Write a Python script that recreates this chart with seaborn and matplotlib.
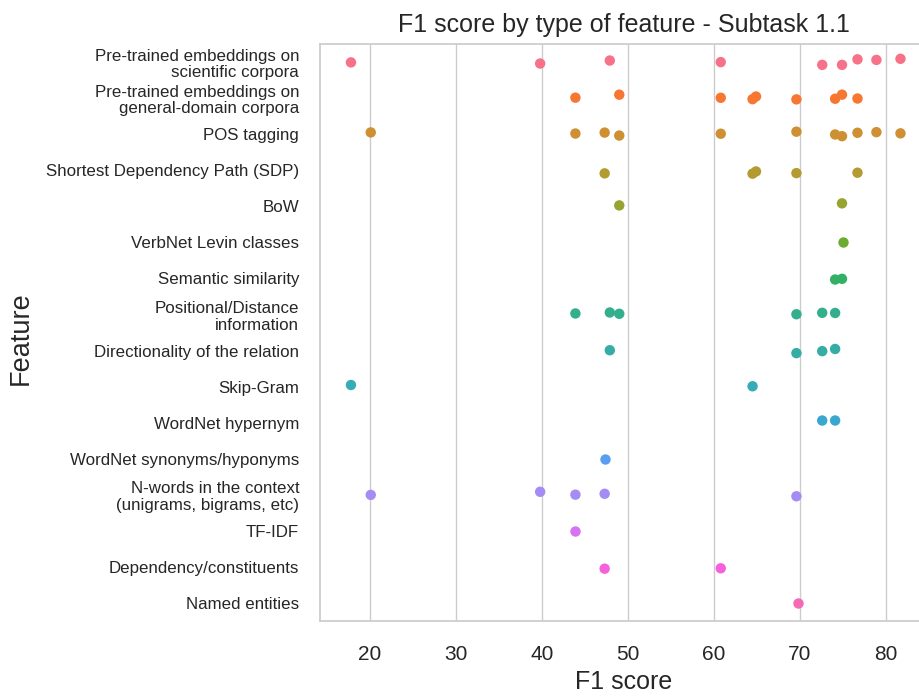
import numpy as np
import pandas as pd
import matplotlib
matplotlib.use("Agg")
import matplotlib.pyplot as plt
import seaborn as sns

features = [
    "Pre-trained embeddings on\nscientific corpora",
    "Pre-trained embeddings on\ngeneral-domain corpora",
    "POS tagging",
    "Shortest Dependency Path (SDP)",
    "BoW",
    "VerbNet Levin classes",
    "Semantic similarity",
    "Positional/Distance\ninformation",
    "Directionality of the relation",
    "Skip-Gram",
    "WordNet hypernym",
    "WordNet synonyms/hyponyms",
    "N-words in the context\n(unigrams, bigrams, etc)",
    "TF-IDF",
    "Dependency/constituents",
    "Named entities",
]

scores = [
    [17.8, 39.8, 47.9, 60.8, 72.6, 74.9, 76.7, 78.9, 81.7],
    [43.9, 49.0, 60.8, 64.5, 64.9, 69.6, 74.1, 74.9, 76.7],
    [20.1, 43.9, 47.3, 49.0, 60.8, 69.6, 74.1, 74.9, 76.7, 78.9, 81.7],
    [47.3, 64.5, 64.9, 69.6, 76.7],
    [49.0, 74.9],
    [75.0],
    [74.1, 74.9],
    [43.9, 47.9, 49.0, 69.6, 72.6, 74.1],
    [47.9, 69.6, 72.6, 74.1],
    [17.8, 64.5],
    [72.6, 74.1],
    [47.3],
    [20.1, 39.8, 43.9, 47.3, 69.6],
    [43.9],
    [47.3, 60.8],
    [69.8],
]

rows = [(f, s) for f, vals in zip(features, scores) for s in vals]
df = pd.DataFrame(rows, columns=["Feature", "F1 score"])

sns.set_theme(style="whitegrid")
plt.rcParams["font.family"] = ["Liberation Sans", "DejaVu Sans"]

fig = plt.figure(figsize=(9.2, 6.96), dpi=100)
ax = fig.add_axes([320/920, 1 - 621/696, (928 - 320)/920, (621 - 44)/696])

np.random.seed(3)
sns.stripplot(data=df, x="F1 score", y="Feature", hue="Feature",
              order=features, hue_order=features, palette="husl",
              size=7.5, jitter=True, legend=False, ax=ax)

ax.set_xlim(14.2, 84.9)
ax.set_title("F1 score by type of feature - Subtask 1.1", fontsize=18, pad=9)
ax.set_xlabel("F1 score", fontsize=18)
ax.set_ylabel("Feature", fontsize=19.5)
ax.yaxis.set_label_coords(-0.471, 0.49)
ax.tick_params(axis="x", labelsize=15, pad=11.5)
ax.tick_params(axis="y", labelsize=12.2, pad=9)
for lbl in ax.get_yticklabels():
    lbl.set_linespacing(1.15)
for s in ax.spines.values():
    s.set_color("#cccccc")

fig.savefig("out.png", dpi=100)
